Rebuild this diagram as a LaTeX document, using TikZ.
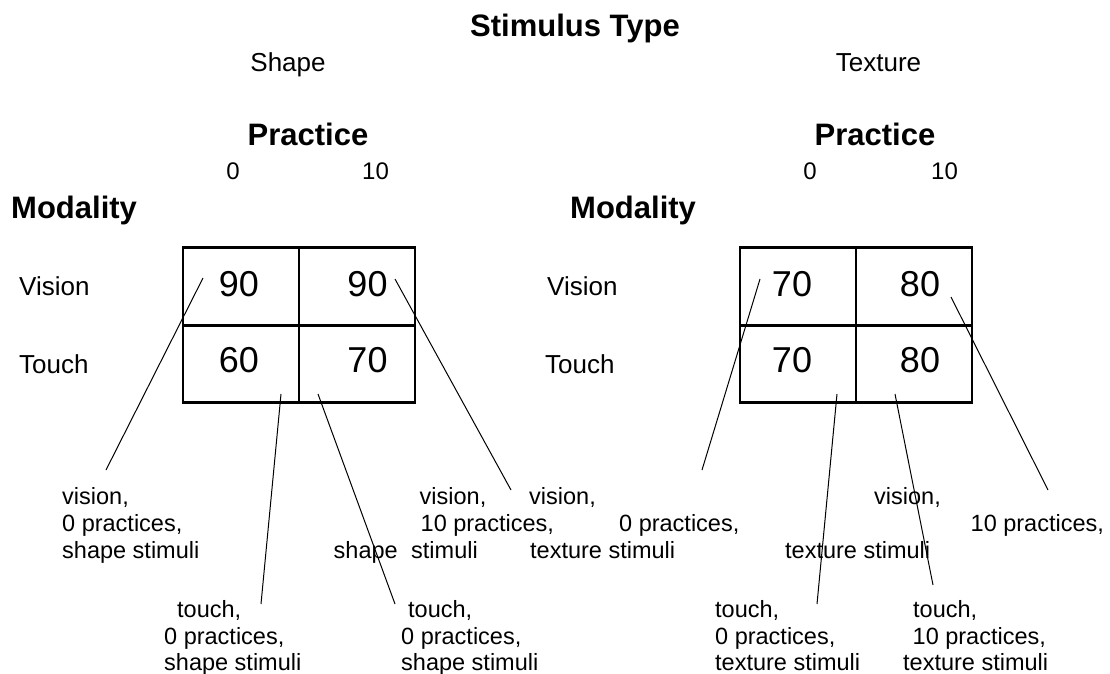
\documentclass[tikz,border=0pt]{standalone}
\usepackage{fontspec}
\setmainfont{Liberation Sans}
\begin{document}
\begin{tikzpicture}[x=1pt,y=-1pt,
  head/.style={font=\fontsize{31}{36}\selectfont\bfseries, inner sep=0pt, anchor=base},
  plain/.style={font=\fontsize{26}{30}\selectfont, inner sep=0pt},
  lvl/.style={font=\fontsize{24}{28}\selectfont, inner sep=0pt, anchor=base},
  num/.style={font=\fontsize{36}{40}\selectfont, inner sep=0pt, anchor=base},
  note/.style={font=\fontsize{23.5}{27}\selectfont, inner sep=0pt, anchor=base west},
  cell/.style={draw, line width=2.6pt, minimum width=116pt, minimum height=77.5pt, inner sep=0pt},
  lead/.style={line width=1pt}]
\useasboundingbox (0,0) rectangle (1110,674);

% ---- overall factor ----
\node[head] (stype) at (575,37) {Stimulus Type};
\node[plain, anchor=base] (shape) at (288,72) {Shape};
\node[plain, anchor=base] (texture) at (878.5,72) {Texture};

% ---- left table: shape stimuli ----
\node[head] (pracL) at (308,146) {Practice};
\node[lvl] (p0L) at (233,179) {0};
\node[lvl] (p10L) at (375.5,179) {10};
\node[head, anchor=base west] (modL) at (11,218) {Modality};
\node[plain, anchor=base west] (visL) at (19,295) {Vision};
\node[plain, anchor=base west] (touL) at (19,373) {Touch};

\node[cell] (sA) at (241,286.5) {};
\node[cell] (sB) at (357,286.5) {};
\node[cell] (sC) at (241,364) {};
\node[cell] (sD) at (357,364) {};
\node[num] (nA) at (239,296) {90};
\node[num] (nB) at (367.5,296) {90};
\node[num] (nC) at (239,372) {60};
\node[num] (nD) at (367.5,372) {70};

% ---- right table: texture stimuli ----
\node[head] (pracR) at (875,146) {Practice};
\node[lvl] (p0R) at (810,179) {0};
\node[lvl] (p10R) at (944.5,179) {10};
\node[head, anchor=base west] (modR) at (570,218) {Modality};
\node[plain, anchor=base west] (visR) at (547,295) {Vision};
\node[plain, anchor=base west] (touR) at (545,373) {Touch};

\node[cell] (tA) at (798,286.5) {};
\node[cell] (tB) at (914,286.5) {};
\node[cell] (tC) at (798,364) {};
\node[cell] (tD) at (914,364) {};
\node[num] (mA) at (792,296) {70};
\node[num] (mB) at (920,296) {80};
\node[num] (mC) at (792,372) {70};
\node[num] (mD) at (920,372) {80};

% ---- cell descriptions, shape ----
\node[note] (a1) at (62,504) {vision,};
\node[note] (a2) at (62,531) {0 practices,};
\node[note] (a3) at (62,558) {shape stimuli};

\node[note] (b1) at (419.5,504) {vision,};
\node[note] (b2) at (420.5,531) {10 practices,};
\node[note] (b3) at (333.5,558) {shape};
\node[note] (b4) at (411,558) {stimuli};

\node[note] (c1) at (177,617) {touch,};
\node[note] (c2) at (164,644) {0 practices,};
\node[note] (c3) at (164,670) {shape stimuli};

\node[note] (d1) at (408,617) {touch,};
\node[note] (d2) at (401,644) {0 practices,};
\node[note] (d3) at (401,670) {shape stimuli};

% ---- cell descriptions, texture ----
\node[note] (e1) at (529,504) {vision,};
\node[note] (e2) at (619,531) {0 practices,};
\node[note] (e3) at (530,558) {texture stimuli};

\node[note] (f1) at (874,504) {vision,};
\node[note] (f2) at (970.5,531) {10 practices,};
\node[note] (f3) at (785,558) {texture stimuli};

\node[note] (g1) at (715,617) {touch,};
\node[note] (g2) at (715,644) {0 practices,};
\node[note] (g3) at (715,670) {texture stimuli};

\node[note] (h1) at (913,617) {touch,};
\node[note] (h2) at (912.5,644) {10 practices,};
\node[note] (h3) at (903,670) {texture stimuli};

% ---- leader lines ----
\coordinate (sAs) at (203,278);   \coordinate (sAe) at (106,470);
\coordinate (sBs) at (395,279);   \coordinate (sBe) at (511,490);
\coordinate (sCs) at (281,394);   \coordinate (sCe) at (261,604);
\coordinate (sDs) at (318,394);   \coordinate (sDe) at (395,604);
\coordinate (tAs) at (760,279);   \coordinate (tAe) at (702,470);
\coordinate (tBs) at (951,297);   \coordinate (tBe) at (1048,490);
\coordinate (tCs) at (837,394);   \coordinate (tCe) at (817,604);
\coordinate (tDs) at (895,394);   \coordinate (tDe) at (933,585);

\draw[lead] (sAs) -- (sAe);
\draw[lead] (sBs) -- (sBe);
\draw[lead] (sCs) -- (sCe);
\draw[lead] (sDs) -- (sDe);
\draw[lead] (tAs) -- (tAe);
\draw[lead] (tBs) -- (tBe);
\draw[lead] (tCs) -- (tCe);
\draw[lead] (tDs) -- (tDe);
\end{tikzpicture}
\end{document}
